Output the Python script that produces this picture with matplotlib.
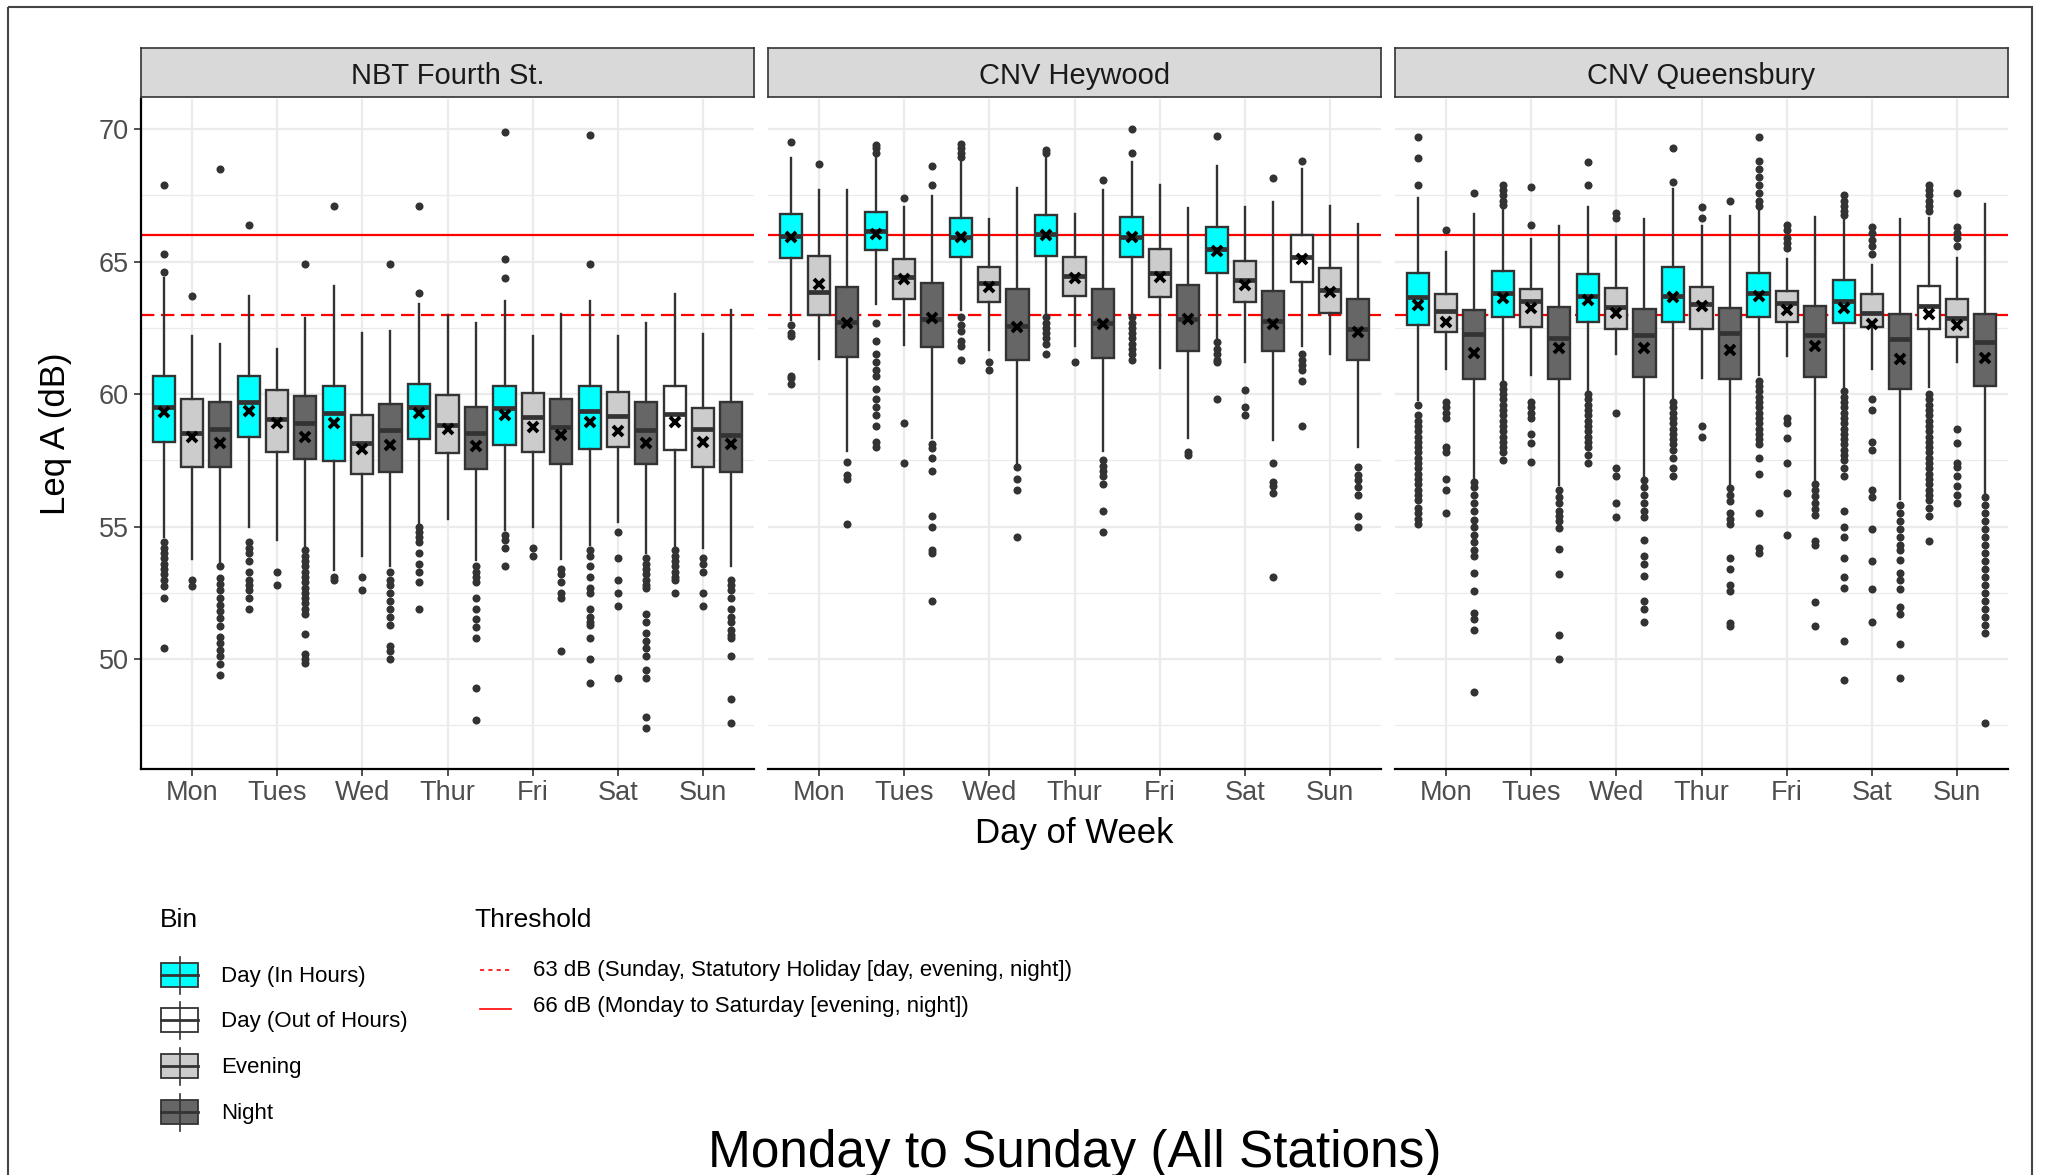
import matplotlib
matplotlib.use('Agg')
import matplotlib.pyplot as plt
from matplotlib.patches import Rectangle
import numpy as np

plt.rcParams['font.family'] = ['Liberation Sans', 'DejaVu Sans']

DAYS = ['Mon', 'Tues', 'Wed', 'Thur', 'Fri', 'Sat', 'Sun']
STATIONS = ['NBT Fourth St.', 'CNV Heywood', 'CNV Queensbury']
BINS = ['Day (In Hours)', 'Day (Out of Hours)', 'Evening', 'Night']
BIN_COLORS = ['#00FFFF', '#FFFFFF', '#CCCCCC', '#666666']
# bin of each box (3 per day, Sunday has no in-hours day bin)
BOX_BINS = [0, 2, 3] * 6 + [1, 2, 3]
THRESHOLDS = [63, 66]
THRESHOLD_LABELS = ['63 dB (Sunday, Statutory Holiday [day, evening, night])',
                    '66 dB (Monday to Saturday [evening, night])']

# ---- NBT Fourth St. ----
NBT_Q3 = [60.70, 59.82, 59.70, 60.70, 60.15, 59.92, 60.30, 59.21, 59.61, 60.40, 59.95,
          59.50, 60.30, 60.03, 59.80, 60.30, 60.09, 59.71, 60.30, 59.49, 59.71]
NBT_MED = [59.51, 58.52, 58.67, 59.70, 59.05, 58.90, 59.27, 58.14, 58.64, 59.52, 58.83,
           58.54, 59.46, 59.12, 58.77, 59.37, 59.17, 58.64, 59.25, 58.67, 58.46]
NBT_Q1 = [58.18, 57.26, 57.24, 58.37, 57.83, 57.57, 57.48, 56.99, 57.05, 58.29, 57.77,
          57.16, 58.07, 57.82, 57.37, 57.92, 58.02, 57.37, 57.89, 57.24, 57.06]
NBT_MEAN = [59.31, 58.40, 58.14, 59.37, 58.90, 58.37, 58.90, 57.93, 58.08, 59.27, 58.67,
            58.04, 59.21, 58.77, 58.46, 58.96, 58.62, 58.17, 58.96, 58.18, 58.12]
NBT_WHI = [64.40, 62.18, 61.89, 63.69, 61.70, 62.89, 64.10, 62.30, 62.39, 63.41, 62.99,
           62.70, 63.50, 62.18, 63.02, 63.50, 62.18, 62.70, 63.77, 62.28, 63.18]
NBT_WLO = [54.60, 53.78, 53.65, 55.00, 54.48, 54.19, 53.38, 53.90, 53.50, 55.13, 55.30,
           53.75, 54.88, 55.00, 53.78, 54.30, 55.16, 54.00, 54.19, 54.19, 53.50]
NBT_OUT = [
    [67.9, 65.3, 64.6, 54.4, 54.2, 54.0, 53.8, 53.6, 53.4, 53.2, 53.0, 52.75, 52.3, 50.4],
    [63.7, 53.0, 52.75],
    [68.5, 53.5, 53.05, 52.85, 52.6, 52.3, 52.05, 51.8, 51.55, 51.25, 50.85, 50.6, 50.35, 50.1, 49.8, 49.4],
    [66.4, 54.4, 54.2, 54.0, 53.7, 53.3, 53.0, 52.8, 52.6, 52.3, 51.9],
    [53.3, 52.8],
    [64.9, 54.1, 53.9, 53.7, 53.5, 53.3, 53.1, 52.9, 52.7, 52.5, 52.3, 52.1, 51.9, 51.7, 50.95, 50.2, 50.0, 49.85],
    [67.1, 53.1, 53.0],
    [53.1, 52.6],
    [64.9, 53.3, 53.0, 52.8, 52.5, 52.2, 51.9, 51.6, 51.3, 50.5, 50.3, 50.0],
    [67.1, 63.8, 55.0, 54.8, 54.6, 54.4, 54.0, 53.6, 53.3, 52.9, 51.9],
    [],
    [53.5, 53.3, 53.1, 52.9, 52.3, 51.9, 51.5, 51.2, 50.8, 48.9, 47.7],
    [69.9, 65.1, 64.4, 54.7, 54.5, 54.2, 53.5],
    [54.2, 53.9],
    [53.4, 53.2, 52.9, 52.5, 52.3, 50.3],
    [69.8, 64.9, 54.1, 53.9, 53.5, 53.1, 52.7, 52.5, 51.9, 51.6, 51.4, 51.3, 50.8, 50.0, 49.1],
    [54.8, 53.8, 53.0, 52.5, 52.0, 49.3],
    [53.8, 53.6, 53.4, 53.2, 53.0, 52.8, 52.7, 51.7, 51.4, 51.0, 50.7, 50.4, 50.1, 49.6, 49.3, 47.8, 47.4],
    [54.1, 53.9, 53.7, 53.5, 53.3, 53.1, 53.0, 52.5],
    [53.8, 53.6, 53.3, 52.5, 52.0],
    [53.0, 52.8, 52.6, 52.3, 51.9, 51.6, 51.4, 51.1, 50.9, 50.8, 50.1, 48.5, 47.6],
]

# ---- CNV Heywood ----
HEY_Q3 = [66.81, 65.22, 64.04, 66.87, 65.10, 64.21, 66.64, 64.79, 63.97, 66.77, 65.17,
          63.97, 66.67, 65.47, 64.13, 66.29, 65.04, 63.90, 65.99, 64.75, 63.58]
HEY_MED = [65.95, 63.87, 62.74, 66.14, 64.44, 62.84, 65.92, 64.21, 62.58, 66.04, 64.47,
           62.70, 65.92, 64.59, 62.83, 65.47, 64.31, 62.77, 65.16, 63.94, 62.45]
HEY_Q1 = [65.13, 62.99, 61.42, 65.45, 63.60, 61.77, 65.17, 63.46, 61.30, 65.23, 63.71,
          61.38, 65.19, 63.65, 61.64, 64.57, 63.46, 61.61, 64.25, 63.08, 61.30]
HEY_MEAN = [65.92, 64.15, 62.68, 66.05, 64.34, 62.87, 65.92, 64.06, 62.55, 66.01, 64.40,
            62.65, 65.92, 64.44, 62.83, 65.42, 64.13, 62.65, 65.09, 63.87, 62.33]
HEY_WHI = [68.91, 67.71, 67.69, 68.90, 67.06, 67.46, 68.78, 66.60, 67.77, 68.90, 66.81,
           67.71, 68.78, 67.90, 67.02, 68.62, 67.06, 67.27, 68.49, 67.11, 66.43]
HEY_WLO = [62.80, 61.32, 57.85, 63.41, 61.84, 58.33, 63.18, 61.67, 57.33, 63.06, 61.80,
           57.87, 62.99, 60.98, 58.33, 62.11, 61.23, 58.27, 61.80, 61.51, 58.02]
HEY_OUT = [
    [69.5, 62.6, 62.3, 62.2, 60.7, 60.6, 60.4],
    [68.7],
    [57.45, 56.95, 56.8, 55.1],
    [69.4, 69.3, 69.1, 62.7, 62.0, 61.5, 61.2, 60.9, 60.7, 60.2, 59.8, 59.5, 59.2, 58.8, 58.2, 58.0],
    [67.4, 58.9, 57.4],
    [68.6, 67.9, 58.1, 57.95, 57.6, 57.1, 55.4, 55.0, 54.1, 54.0, 52.2],
    [69.45, 69.3, 69.1, 68.95, 62.9, 62.6, 62.4, 62.0, 61.8, 61.3],
    [61.2, 60.9],
    [57.25, 56.8, 56.4, 54.6],
    [69.2, 69.1, 62.9, 62.7, 62.5, 62.3, 62.1, 61.9, 61.5],
    [61.2],
    [68.1, 57.5, 57.3, 57.1, 56.9, 56.6, 55.6, 54.8],
    [70.0, 69.1, 62.9, 62.7, 62.5, 62.3, 62.1, 61.9, 61.7, 61.5, 61.3],
    [],
    [57.8, 57.7],
    [69.75, 61.95, 61.7, 61.5, 61.3, 61.2, 59.8],
    [60.15, 59.5, 59.2],
    [68.15, 57.4, 56.7, 56.55, 56.25, 53.1],
    [68.8, 61.5, 61.3, 61.1, 60.9, 60.5, 58.8],
    [],
    [57.25, 56.95, 56.75, 56.5, 56.2, 55.4, 55.0],
]

# ---- CNV Queensbury ----
QUE_Q3 = [64.59, 63.79, 63.16, 64.63, 63.97, 63.28, 64.54, 64.00, 63.21, 64.78, 64.06,
          63.25, 64.59, 63.90, 63.33, 64.31, 63.79, 63.02, 64.09, 63.58, 63.03]
QUE_MED = [63.65, 63.12, 62.28, 63.81, 63.50, 62.11, 63.72, 63.28, 62.24, 63.71, 63.40,
           62.30, 63.81, 63.43, 62.24, 63.50, 63.08, 62.07, 63.33, 62.87, 61.98]
QUE_Q1 = [62.62, 62.34, 60.58, 62.91, 62.55, 60.57, 62.74, 62.47, 60.63, 62.74, 62.45,
          60.57, 62.93, 62.72, 60.66, 62.70, 62.53, 60.19, 62.47, 62.17, 60.31]
QUE_MEAN = [63.37, 62.74, 61.57, 63.62, 63.25, 61.74, 63.56, 63.06, 61.74, 63.65, 63.33,
            61.67, 63.71, 63.18, 61.80, 63.25, 62.65, 61.32, 63.03, 62.62, 61.35]
QUE_WHI = [67.40, 65.36, 66.81, 67.08, 65.86, 66.33, 67.06, 65.97, 66.60, 67.74, 66.33,
           66.73, 67.02, 65.09, 66.68, 66.58, 64.88, 66.62, 66.64, 65.13, 67.18]
QUE_WLO = [59.79, 60.94, 56.83, 60.54, 60.73, 56.57, 60.16, 61.52, 56.89, 59.85, 60.60,
           56.61, 60.73, 61.45, 56.76, 60.28, 60.94, 56.04, 60.28, 61.23, 56.20]
QUE_OUT = [
    [69.7, 68.9, 67.9, 59.6, 59.2, 59.0, 58.8, 58.6, 58.4, 58.2, 58.0, 57.8, 57.6, 57.4, 57.2,
     57.0, 56.8, 56.6, 56.4, 56.2, 56.0, 55.7, 55.5, 55.3, 55.1],
    [66.2, 59.7, 59.5, 59.3, 59.1, 58.0, 57.8, 56.8, 56.4, 55.5],
    [67.6, 56.7, 56.5, 56.2, 55.9, 55.6, 55.25, 55.0, 54.7, 54.4, 54.1, 53.9, 53.25, 52.55,
     51.75, 51.5, 51.1, 48.75],
    [67.9, 67.7, 67.5, 67.3, 67.15, 60.4, 60.2, 60.0, 59.8, 59.6, 59.4, 59.2, 59.0, 58.8, 58.6,
     58.4, 58.2, 58.0, 57.8, 57.5],
    [67.8, 66.4, 59.7, 59.5, 59.3, 59.1, 58.5, 58.15, 57.45],
    [56.4, 56.1, 55.9, 55.6, 55.4, 55.2, 54.95, 54.15, 53.2, 50.9, 50.0],
    [68.75, 67.9, 60.0, 59.8, 59.6, 59.4, 59.2, 59.0, 58.8, 58.6, 58.4, 58.2, 58.0, 57.7, 57.4],
    [66.85, 66.65, 59.3, 57.2, 56.9, 55.9, 55.35],
    [56.75, 56.5, 56.2, 55.9, 55.6, 55.35, 54.5, 53.9, 53.6, 53.15, 52.2, 51.9, 51.4],
    [69.3, 68.0, 59.7, 59.5, 59.3, 59.1, 58.9, 58.7, 58.5, 58.3, 58.1, 57.9, 57.6, 57.2, 56.9],
    [67.05, 66.65, 58.8, 58.4],
    [67.3, 56.45, 56.2, 55.95, 55.5, 55.3, 55.1, 53.8, 53.4, 52.8, 52.55, 51.35, 51.25],
    [69.7, 68.8, 68.5, 68.2, 67.9, 67.6, 67.3, 67.1, 60.5, 60.3, 60.1, 59.9, 59.7, 59.5, 59.3,
     59.1, 58.9, 58.7, 58.5, 58.3, 58.1, 57.6, 57.0, 55.5, 54.2, 54.0],
    [66.4, 66.2, 65.9, 65.7, 65.5, 59.1, 58.9, 58.35, 57.4, 56.25, 54.7],
    [56.6, 56.4, 56.15, 55.9, 55.65, 55.45, 54.45, 54.3, 52.15, 51.25],
    [67.5, 67.3, 67.1, 66.9, 66.75, 60.1, 59.9, 59.7, 59.5, 59.3, 59.1, 58.9, 58.7, 58.5, 58.3,
     58.1, 57.9, 57.7, 57.5, 57.2, 56.9, 55.6, 55.0, 54.6, 53.8, 53.1, 52.7, 50.7, 49.2],
    [66.3, 66.1, 65.8, 65.6, 65.3, 59.8, 59.4, 58.2, 57.9, 56.4, 56.1, 54.9, 53.7, 52.65, 51.4],
    [55.8, 55.5, 55.2, 54.9, 54.6, 54.3, 54.1, 53.75, 53.25, 53.0, 52.65, 51.95, 51.7, 50.55, 49.3],
    [67.9, 67.7, 67.5, 67.3, 67.1, 66.9, 60.0, 59.8, 59.6, 59.4, 59.2, 59.0, 58.8, 58.6, 58.4,
     58.2, 58.0, 57.8, 57.6, 57.4, 57.2, 57.0, 56.8, 56.6, 56.4, 56.2, 56.0, 55.7, 55.4, 54.45],
    [67.6, 66.3, 66.1, 65.9, 65.6, 58.7, 58.15, 57.4, 57.25, 56.9, 56.55, 56.2, 55.9],
    [56.1, 55.8, 55.5, 55.2, 54.9, 54.6, 54.3, 54.0, 53.7, 53.4, 53.1, 52.8, 52.5, 52.2, 51.9,
     51.6, 51.3, 51.0, 47.6],
]

PANELS = [
    (NBT_Q1, NBT_MED, NBT_Q3, NBT_WLO, NBT_WHI, NBT_MEAN, NBT_OUT),
    (HEY_Q1, HEY_MED, HEY_Q3, HEY_WLO, HEY_WHI, HEY_MEAN, HEY_OUT),
    (QUE_Q1, QUE_MED, QUE_Q3, QUE_WLO, QUE_WHI, QUE_MEAN, QUE_OUT),
]

W, H = 2047, 1175
fig = plt.figure(figsize=(W / 100, H / 100), dpi=100)

EDGE = '#333333'
panel_x = [141, 768, 1395]
panel_w = 613
panel_top, panel_bot = 99, 769
offsets = [-0.33, 0.0, 0.33]

for k, (q1, med, q3, wlo, whi, mean, out) in enumerate(PANELS):
    ax = fig.add_axes([panel_x[k] / W, 1 - panel_bot / H, panel_w / W,
                       (panel_bot - panel_top) / H])
    stats = []
    for i in range(len(med)):
        stats.append(dict(q1=q1[i], med=med[i], q3=q3[i], whislo=wlo[i],
                          whishi=whi[i], mean=mean[i], fliers=np.array(out[i])))
    pos = [d + o for d in range(len(DAYS)) for o in offsets]
    bp = ax.bxp(stats, positions=pos, widths=0.26, patch_artist=True,
                showmeans=True, showcaps=False, manage_ticks=False,
                boxprops=dict(edgecolor=EDGE, linewidth=1.7),
                whiskerprops=dict(color=EDGE, linewidth=1.7),
                medianprops=dict(color=EDGE, linewidth=3.4, solid_capstyle='butt'),
                meanprops=dict(marker='x', markeredgecolor='black',
                               markersize=7.5, markeredgewidth=2.8),
                flierprops=dict(marker='o', markerfacecolor=EDGE,
                                markeredgecolor=EDGE, markersize=5.8,
                                markeredgewidth=0), zorder=3)
    for patch, b in zip(bp['boxes'], BOX_BINS):
        patch.set_facecolor(BIN_COLORS[b])

    ax.axhline(THRESHOLDS[1], color='#FF0000', lw=1.6, zorder=2)
    ax.axhline(THRESHOLDS[0], color='#FF0000', lw=1.6, ls=(0, (6, 3)), zorder=2)

    ax.set_xlim(-0.6, 6.6)
    ax.set_ylim(45.85, 71.14)
    ax.set_xticks(range(len(DAYS)))
    ax.set_xticklabels(DAYS)
    ax.set_yticks([50, 55, 60, 65, 70])
    ax.set_yticks([47.5, 52.5, 57.5, 62.5, 67.5], minor=True)
    ax.set_axisbelow(True)
    ax.grid(which='major', color='#EBEBEB', lw=1.6)
    ax.grid(which='minor', axis='y', color='#EBEBEB', lw=0.9)
    ax.tick_params(which='minor', length=0)
    ax.tick_params(axis='x', length=5, width=1.2, color=EDGE, labelsize=19.5,
                   labelcolor='#4D4D4D', pad=3)
    for s in ['top', 'right']:
        ax.spines[s].set_visible(False)
    ax.spines['bottom'].set_color('black')
    ax.spines['bottom'].set_linewidth(1.6)
    if k == 0:
        ax.spines['left'].set_color('black')
        ax.spines['left'].set_linewidth(1.6)
        ax.tick_params(axis='y', length=5, width=1.2, color=EDGE, labelsize=19.5,
                       labelcolor='#4D4D4D', pad=4)
    else:
        ax.spines['left'].set_visible(False)
        ax.tick_params(axis='y', length=0, labelleft=False)

    # facet strip
    sax = fig.add_axes([panel_x[k] / W, 1 - 97 / H, panel_w / W, 49 / H])
    sax.set_facecolor('#D9D9D9')
    sax.set_xticks([])
    sax.set_yticks([])
    for s in sax.spines.values():
        s.set_color(EDGE)
        s.set_linewidth(1.2)

# overlay in pixel coordinates for legend, labels, title and frame
lax = fig.add_axes([0, 0, 1, 1])
lax.set_xlim(0, W)
lax.set_ylim(H, 0)
lax.axis('off')

for k, name in enumerate(STATIONS):
    lax.text(panel_x[k] + panel_w / 2, 84, name, ha='center', va='baseline',
             fontsize=21, color='#1A1A1A')

lax.text(56, 434, 'Leq A (dB)', rotation=90, ha='center', va='center', fontsize=25)
lax.text(1074, 843, 'Day of Week', ha='center', va='baseline', fontsize=25)

# Bin legend
lax.text(160, 927, 'Bin', ha='left', va='baseline', fontsize=19)
key_y = [975, 1019.5, 1066, 1112]
for b, cy in zip(range(len(BINS)), key_y):
    lax.plot([179.5, 179.5], [cy - 18, cy + 19], color=EDGE, lw=1.2)
    lax.add_patch(Rectangle((161, cy - 12), 37, 24, facecolor=BIN_COLORS[b],
                            edgecolor=EDGE, lw=1.3))
    lax.plot([161, 198], [cy, cy], color=EDGE, lw=2)
    lax.text(221, cy + 7, BINS[b], ha='left', va='baseline', fontsize=16)

# Threshold legend
lax.text(474, 927, 'Threshold', ha='left', va='baseline', fontsize=19)
lax.plot([480, 511], [970, 970], color='#FF0000', lw=1.2, ls=(0, (2.5, 2.5)))
lax.plot([480, 511], [1009, 1009], color='#FF0000', lw=1.2)
lax.text(533, 976, THRESHOLD_LABELS[0], ha='left', va='baseline', fontsize=16)
lax.text(533, 1012, THRESHOLD_LABELS[1], ha='left', va='baseline', fontsize=16)

lax.text(1075, 1167, 'Monday to Sunday (All Stations)', ha='center', va='baseline',
         fontsize=37)

lax.add_patch(Rectangle((8, 7), 2032 - 8, 1400, facecolor='none', edgecolor='#444444',
                        lw=1.5))

fig.savefig('out.png', dpi=100)
